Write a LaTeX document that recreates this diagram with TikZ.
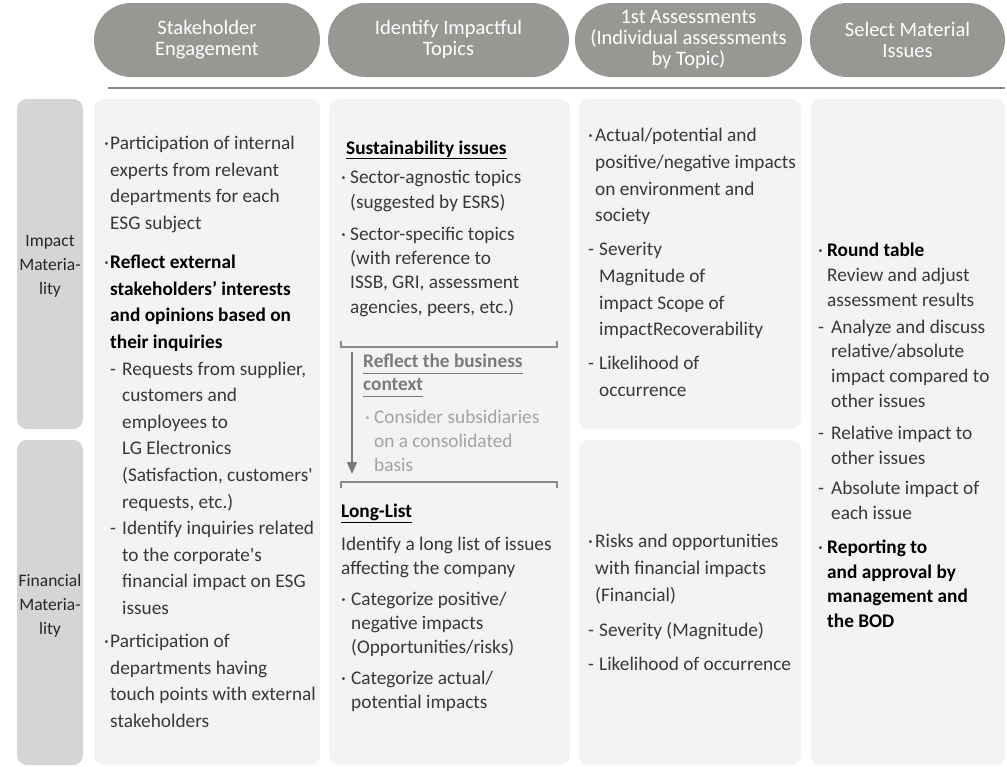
\documentclass[tikz,border=0pt]{standalone}
\usepackage{fontspec}
\setmainfont{Carlito}
\usetikzlibrary{arrows.meta}
\definecolor{pill}{HTML}{989793}
\definecolor{boxbg}{HTML}{F3F3F2}
\definecolor{sidebg}{HTML}{D5D5D5}
\definecolor{txt}{HTML}{383838}
\definecolor{rulec}{HTML}{8A8A8A}
\definecolor{ctx}{HTML}{7A7A7A}
\definecolor{ctxlt}{HTML}{A3A3A3}
\newcommand{\bul}[1]{\makebox[#1][l]{·}}
\newcommand{\dsh}[1]{\makebox[#1][l]{-}}
\newcommand{\ind}[1]{\hspace*{#1}}
\begin{document}
\begin{tikzpicture}[x=1pt,y=-1pt,
  pillbox/.style={fill=pill, rounded corners=37pt, minimum height=74pt, inner sep=0pt,
    text=white, align=center, font=\fontsize{20.5}{21}\selectfont},
  panel/.style={fill=boxbg, rounded corners=10pt},
  sidepanel/.style={fill=sidebg, rounded corners=10pt},
  sidelabel/.style={align=center, inner sep=0pt, text=black!85, font=\fontsize{17.5}{24}\selectfont},
  body/.style={anchor=north west, inner sep=0pt, text=txt},
  headline/.style={anchor=base west, inner sep=0pt, font=\fontsize{19.3}{24}\selectfont\bfseries},
  uline/.style={line width=1pt},
  bracket/.style={draw=rulec, line width=1.3pt},
  ]
\useasboundingbox (0,0) rectangle (1007,766);

% header pills
\node[pillbox, minimum width=226pt] (p1) at (207,40) {Stakeholder\\Engagement};
\node[pillbox, minimum width=241pt] (p2) at (448.5,40) {Identify Impactful\\Topics};
\node[pillbox, minimum width=227pt] (p3) at (688.5,40) {1st Assessments\\(Individual assessments\\by Topic)};
\node[pillbox, minimum width=195pt] (p4) at (907.5,40) {Select Material\\Issues};
\draw[rulec, line width=1.2pt] (108,88) -- (1005,88);

% panels
\fill[sidepanel] (17,99) rectangle (83,429);
\fill[sidepanel] (17,440) rectangle (83,765);
\fill[panel] (94,99) rectangle (320,765);
\fill[panel] (329,99) rectangle (570,765);
\fill[panel] (579,99) rectangle (801,429);
\fill[panel] (579,440) rectangle (801,765);
\fill[panel] (811,99) rectangle (1005,765);

% side labels
\node[sidelabel] (impact) at (50,266) {Impact\\Materia-\\lity};
\node[sidelabel] (financial) at (50,606) {Financial\\Materia-\\lity};

% column 1
\node[body, font=\fontsize{19.3}{26.6}\selectfont] (c1) at (104,130.9) {\begin{tabular}{@{}l@{}}
\bul{6pt}Participation of internal\\
\ind{6pt}experts from relevant\\
\ind{6pt}departments for each\\
\ind{6pt}ESG subject\\[12.5pt]
\bul{6pt}\textbf{\color{black}Reflect external}\\
\ind{6pt}\textbf{\color{black}stakeholders’ interests}\\
\ind{6pt}\textbf{\color{black}and opinions based on}\\
\ind{6pt}\textbf{\color{black}their inquiries}\\
\ind{6pt}\dsh{12pt}Requests from supplier,\\
\ind{18pt}customers and\\
\ind{18pt}employees to\\
\ind{18pt}LG Electronics\\
\ind{18pt}(Satisfaction, customers\textquotesingle\\
\ind{18pt}requests, etc.)\\
\ind{6pt}\dsh{12pt}Identify inquiries related\\
\ind{18pt}to the corporate\textquotesingle s\\
\ind{18pt}financial impact on ESG\\
\ind{18pt}issues\\[6.5pt]
\bul{6pt}Participation of\\
\ind{6pt}departments having\\
\ind{6pt}touch points with external\\
\ind{6pt}stakeholders
\end{tabular}};

% column 2
\node[headline, text=black] (sust) at (346,154) {Sustainability issues};
\draw[uline, black] ([yshift=-4.5pt]sust.base west) -- ([yshift=-4.5pt]sust.base east);
\node[body, font=\fontsize{19.3}{24.4}\selectfont] (sect) at (341,166.4) {\begin{tabular}{@{}l@{}}
\bul{9pt}Sector-agnostic topics\\
\ind{9pt}(suggested by ESRS)\\[7.6pt]
\bul{9pt}Sector-specific topics\\
\ind{9pt}(with reference to\\
\ind{9pt}ISSB, GRI, assessment\\
\ind{9pt}agencies, peers, etc.)
\end{tabular}};
\draw[bracket] (341,341) -- (341,347) -- (557,347) -- (557,341);
\coordinate (arrS) at (352,352);
\coordinate (arrE) at (352,474);
\draw[ctx, line width=1.3pt, -{Triangle[length=12pt,width=10pt]}] (arrS) -- (arrE);
\node[headline, text=ctx] (refA) at (363,367.5) {Reflect the business\ };
\node[headline, text=ctx] (refB) at (363,390.5) {context};
\draw[uline, ctx] ([yshift=-5.5pt]refA.base west) -- ([yshift=-5.5pt]refA.base east);
\draw[uline, ctx] ([yshift=-5.5pt]refB.base west) -- ([yshift=-5.5pt]refB.base east);
\node[body, text=ctxlt, font=\fontsize{19.3}{24}\selectfont] (cons) at (365,406.7) {\begin{tabular}{@{}l@{}}
\bul{9pt}Consider subsidiaries\\
\ind{9pt}on a consolidated\\
\ind{9pt}basis
\end{tabular}};
\draw[bracket] (341,488) -- (341,482) -- (557,482) -- (557,488);
\node[headline, text=black] (long) at (341,517.5) {Long-List};
\draw[uline, black] ([yshift=-4.5pt]long.base west) -- ([yshift=-4.5pt]long.base east);
\node[body, font=\fontsize{19.3}{24}\selectfont] (ident) at (341,533.7) {\begin{tabular}{@{}l@{}}
Identify a long list of issues\\
affecting the company\\[7pt]
\bul{10pt}Categorize positive/\\
\ind{10pt}negative impacts\\
\ind{10pt}(Opportunities/risks)\\[7pt]
\bul{10pt}Categorize actual/\\
\ind{10pt}potential impacts
\end{tabular}};

% column 3
\node[body, font=\fontsize{19.3}{26.7}\selectfont] (c3a) at (588,122.8) {\begin{tabular}{@{}l@{}}
\bul{7pt}Actual/potential and\\
\ind{7pt}positive/negative impacts\\
\ind{7pt}on environment and\\
\ind{7pt}society\\[7.3pt]
\dsh{11pt}Severity\\
\ind{11pt}Magnitude of\\
\ind{11pt}impact Scope of\\
\ind{11pt}impactRecoverability\\[7.3pt]
\dsh{11pt}Likelihood of\\
\ind{11pt}occurrence
\end{tabular}};
\node[body, font=\fontsize{19.3}{27}\selectfont] (c3b) at (588,528.6) {\begin{tabular}{@{}l@{}}
\bul{7pt}Risks and opportunities\\
\ind{7pt}with financial impacts\\
\ind{7pt}(Financial)\\[8pt]
\dsh{11pt}Severity (Magnitude)\\[7pt]
\dsh{11pt}Likelihood of occurrence
\end{tabular}};

% column 4
\node[body, font=\fontsize{19.3}{24.7}\selectfont] (c4) at (818,239.2) {\begin{tabular}{@{}l@{}}
\bul{9pt}\textbf{\color{black}Round table}\\
\ind{9pt}Review and adjust\\
\ind{9pt}assessment results\\[2.5pt]
\dsh{13pt}Analyze and discuss\\
\ind{13pt}relative/absolute\\
\ind{13pt}impact compared to\\
\ind{13pt}other issues\\[7.5pt]
\dsh{13pt}Relative impact to\\
\ind{13pt}other issues\\[5.5pt]
\dsh{13pt}Absolute impact of\\
\ind{13pt}each issue\\[9.5pt]
\bul{9pt}\textbf{\color{black}Reporting to}\\
\ind{9pt}\textbf{\color{black}and approval by}\\
\ind{9pt}\textbf{\color{black}management and}\\
\ind{9pt}\textbf{\color{black}the BOD}
\end{tabular}};
\end{tikzpicture}
\end{document}
